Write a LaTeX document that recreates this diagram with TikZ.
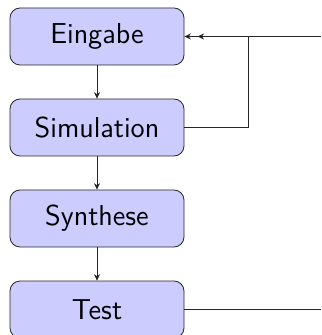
\documentclass[tikz,border=0pt]{standalone}
\usetikzlibrary{arrows.meta}
\begin{document}
\begin{tikzpicture}[x=0.5pt,y=-0.5pt,
  stepbox/.style={draw=black!85, fill=blue!20, rounded corners=5pt,
    minimum width=87pt, minimum height=28.5pt, inner sep=0pt,
    font=\sffamily\Large},
  link/.style={draw=black!85, line width=0.4pt},
  tipone/.style={-{Stealth[length=3.2pt,width=3pt,inset=1pt]}},
  tiptwo/.style={-{Stealth[length=3.2pt,width=3pt,inset=1pt,sep=3.4pt]Stealth[length=3.2pt,width=3pt,inset=1pt]}}]
\useasboundingbox (0,0) rectangle (321,335);
\node[stepbox] (ein) at (97,36.5) {Eingabe};
\node[stepbox] (sim) at (97,127.5) {Simulation};
\node[stepbox] (syn) at (97,218.5) {Synthese};
\node[stepbox] (tst) at (97,309.5) {Test};
\coordinate (turn) at (248,36.5);
\coordinate (topend) at (321,36.5);
\coordinate (botend) at (321,309.5);
\draw[link,tipone] (ein) -- (sim);
\draw[link,tipone] (sim) -- (syn);
\draw[link,tipone] (syn) -- (tst);
\draw[link,tiptwo] (sim.east) -| (turn) -- (ein.east);
\draw[link] (topend) -- (turn);
\draw[link] (tst.east) -- (botend);
\end{tikzpicture}
\end{document}
